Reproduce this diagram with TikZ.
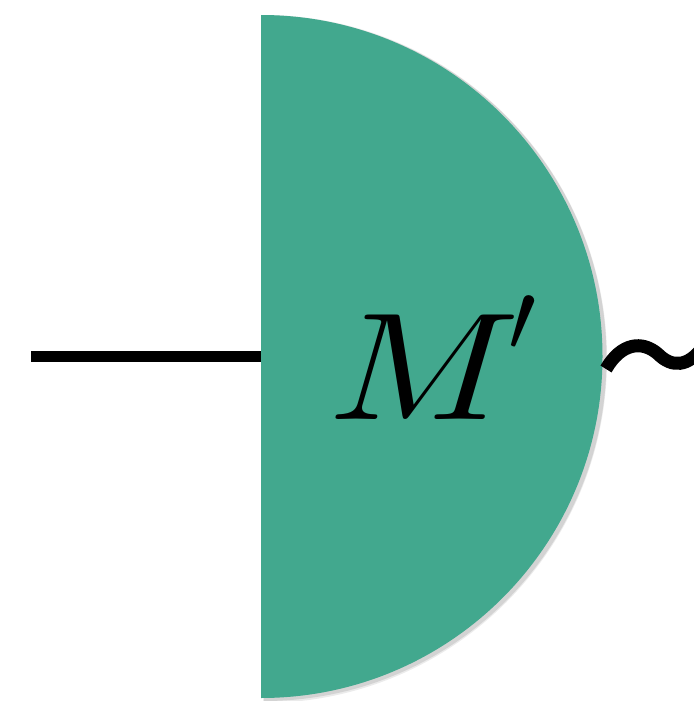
\documentclass[tikz,border=0pt]{standalone}
\usepackage{graphicx}
\usetikzlibrary{calc}
\definecolor{teal1}{RGB}{66,168,142}
\tikzset{
  wire/.style={line width=11pt, black},
  disc/.style={fill=teal1, draw=none},
  squig/.style={line width=13pt, black, line cap=butt},
  glyph/.style={inner sep=0pt},
}
\begin{document}
\begin{tikzpicture}[x=1pt,y=-1pt]
\useasboundingbox (0,0) rectangle (693,701);
\coordinate (c) at (261,356.5);
\coordinate (w) at (31,356.5);
% faint shadow
\fill[black, opacity=0.10] ($(c)+(3,-340.5)$) arc[start angle=-90, end angle=90, radius=342.5] -- cycle;
\fill[black, opacity=0.08] ($(c)+(2,-341.5)$) arc[start angle=-90, end angle=90, radius=344] -- cycle;
\fill[disc] ($(c)+(0,-341.5)$) arc[start angle=-90, end angle=90, radius=341.5] -- cycle;
\draw[wire] (w) -- (c);
\node[glyph, anchor=base west] (lbl) at (328,419) {\scalebox{17.8}[15.3]{$M$}};
\node[glyph, anchor=north west] (pr) at (508,296) {\scalebox{10}{$\prime$}};
\coordinate (t0) at (606,369);
\coordinate (t1) at (658,354);
\coordinate (t2) at (703,347);
\draw[squig] (t0) .. controls (621,343) and (642,340) .. (t1) .. controls (672,368) and (688,367) .. (t2);
\end{tikzpicture}
\end{document}
